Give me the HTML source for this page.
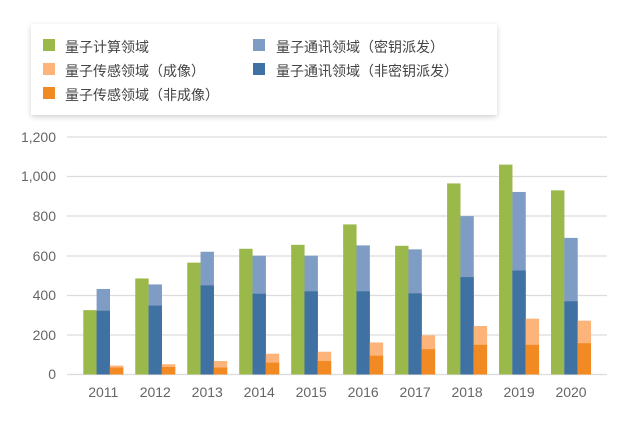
<!DOCTYPE html>
<html><head><meta charset="utf-8"><style>
body{margin:0;width:639px;height:420px;background:#fff;overflow:hidden;font-family:"Liberation Sans","Noto Sans CJK SC",sans-serif;}
</style></head><body>
<svg width="639" height="420" xmlns="http://www.w3.org/2000/svg">
<defs><filter id="sh" x="-10%" y="-20%" width="120%" height="150%"><feGaussianBlur stdDeviation="3"/></filter></defs>
<rect x="31" y="26" width="466" height="91" fill="#000" opacity="0.18" filter="url(#sh)"/>
<rect x="31" y="24" width="466" height="91" fill="#fff"/>
<g font-family="'Liberation Sans','Noto Sans CJK SC',sans-serif" font-size="14" fill="#444">
<rect x="43" y="39" width="12" height="12" fill="#9BB84A"/><text x="65" y="52">量子计算领域</text>
<rect x="43" y="63" width="12" height="12" fill="#FDB47A"/><text x="65" y="76">量子传感领域（成像）</text>
<rect x="43" y="87" width="12" height="12" fill="#F28A24"/><text x="65" y="100">量子传感领域（非成像）</text>
<rect x="253" y="39" width="12" height="12" fill="#7F9DC4"/><text x="276" y="52">量子通讯领域（密钥派发）</text>
<rect x="253" y="63" width="12" height="12" fill="#3F72A3"/><text x="276" y="76">量子通讯领域（非密钥派发）</text>
</g>
<g stroke="#dcdcdc" stroke-width="1.3">
<line x1="67" x2="607" y1="137" y2="137"/><line x1="67" x2="607" y1="176.5" y2="176.5"/>
<line x1="67" x2="607" y1="216" y2="216"/><line x1="67" x2="607" y1="256" y2="256"/>
<line x1="67" x2="607" y1="295.5" y2="295.5"/><line x1="67" x2="607" y1="335" y2="335"/>
<line x1="67" x2="607" y1="374.5" y2="374.5"/>
</g>
<g font-size="14" fill="#666" text-anchor="end" font-family="'Liberation Sans',sans-serif">
<text x="56" y="142">1,200</text><text x="56" y="181">1,000</text><text x="56" y="221">800</text>
<text x="56" y="261">600</text><text x="56" y="300">400</text><text x="56" y="340">200</text><text x="56" y="379">0</text>
</g>
<g id="bars"></g>
<g id="xl" font-size="14" fill="#666" text-anchor="middle" font-family="'Liberation Sans',sans-serif"></g>
</svg>
<script>
var d=[[325,432,322,45,35],[485,455,348,52,38],[565,620,450,68,35],[635,600,408,105,60],[655,600,420,115,68],[758,652,420,162,95],[650,632,410,198,128],[965,800,492,245,150],[1060,922,525,282,150],[930,690,370,272,158]];
var ns="http://www.w3.org/2000/svg",g=document.getElementById('bars'),xl=document.getElementById('xl');
function r(x,v,c){var e=document.createElementNS(ns,'rect');var h=v*0.198;e.setAttribute('x',x);e.setAttribute('y',374.5-h);e.setAttribute('width',13.4);e.setAttribute('height',h);e.setAttribute('fill',c);g.appendChild(e);}
d.forEach(function(a,i){var x=83.3+i*51.97;
r(x,a[0],'#9BB84A');r(x+13.3,a[1],'#7F9DC4');r(x+13.3,a[2],'#3F72A3');r(x+26.6,a[3],'#FDB47A');r(x+26.6,a[4],'#F28A24');
var t=document.createElementNS(ns,'text');t.setAttribute('x',x+20);t.setAttribute('y',397);t.textContent=2011+i;xl.appendChild(t);});
</script>
</body></html>
